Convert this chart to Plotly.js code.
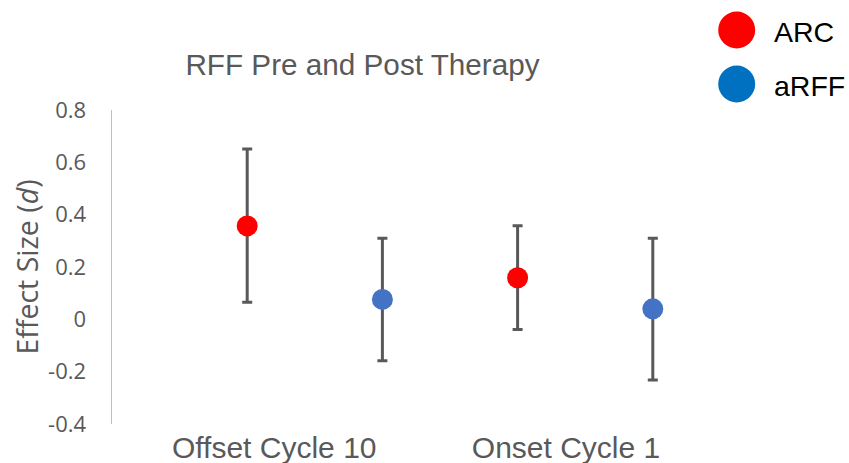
<!DOCTYPE html>
<html>
<head>
<meta charset="utf-8">
<script src="https://cdn.plot.ly/plotly-3.0.1.min.js"></script>
<style>html,body{margin:0;padding:0;background:#fff;}#chart{width:849px;height:463px;}</style>
</head>
<body>
<div id="chart"></div>
<script>
const categories = ['Offset Cycle 10', 'Onset Cycle 1'];
const seriesNames = ['ARC', 'aRFF'];
const arcValues = [0.357, 0.159];
const arcUpper = [0.651, 0.358];
const arcLower = [0.065, -0.039];
const arffValues = [0.076, 0.040];
const arffUpper = [0.310, 0.310];
const arffLower = [-0.158, -0.232];
const yTickValues = [-0.4, -0.2, 0, 0.2, 0.4, 0.6, 0.8];
const yTickLabels = ['-0.4', '-0.2', '0', '0.2', '0.4', '0.6', '0.8'];

const arcX = categories.map((c, i) => i * 2 + 1);
const arffX = categories.map((c, i) => i * 2 + 2);

function errTrace(name, x, y, upper, lower, color) {
  return {
    type: 'scatter', mode: 'markers', name: name, x: x, y: y,
    showlegend: false, hoverinfo: 'skip',
    marker: {color: color, size: 21, line: {width: 0}},
    error_y: {
      type: 'data', symmetric: false,
      array: upper.map((u, i) => u - y[i]),
      arrayminus: lower.map((l, i) => y[i] - l),
      color: '#595959', thickness: 3, width: 5
    }
  };
}

const traces = [
  errTrace(seriesNames[0], arcX, arcValues, arcUpper, arcLower, '#FF0000'),
  errTrace(seriesNames[1], arffX, arffValues, arffUpper, arffLower, '#4472C4')
];

const legendColors = ['#FF0000', '#0070C0'];
const legendY = [30, 84];
const shapes = [];
const annotations = [];
seriesNames.forEach((n, i) => {
  shapes.push({
    type: 'circle', xref: 'paper', yref: 'paper',
    xsizemode: 'pixel', ysizemode: 'pixel',
    xanchor: (736.7 - 112) / 676, yanchor: (424 - legendY[i]) / 314,
    x0: -18.5, x1: 18.5, y0: -18.5, y1: 18.5,
    fillcolor: legendColors[i], line: {width: 0}
  });
  annotations.push({
    text: n, xref: 'paper', yref: 'paper',
    x: (772 - 112) / 676, y: (424 - legendY[i] - 2) / 314,
    xanchor: 'left', yanchor: 'middle', showarrow: false,
    font: {family: 'Liberation Sans, Arial, sans-serif', size: 28.5, color: '#000000'}
  });
});

const layout = {
  width: 849, height: 463,
  margin: {l: 112, r: 61, t: 110, b: 39},
  paper_bgcolor: '#ffffff', plot_bgcolor: '#ffffff',
  showlegend: false,
  title: {
    text: 'RFF Pre and Post Therapy',
    font: {family: 'Liberation Sans, Arial, sans-serif', size: 29.7, color: '#595959'},
    x: 362.5 / 849, xref: 'container', xanchor: 'center',
    y: 1 - 65 / 463, yref: 'container', yanchor: 'middle'
  },
  xaxis: {
    range: [0, 5], showgrid: false, zeroline: false, showline: false,
    ticks: '', tickmode: 'array', tickvals: [1.2, 3.358], ticktext: categories,
    ticklabelstandoff: 3,
    tickfont: {family: 'Liberation Sans, Arial, sans-serif', size: 30, color: '#595959'},
    fixedrange: true
  },
  yaxis: {
    range: [-0.4, 0.8], showgrid: false, zeroline: false,
    showline: true, linecolor: '#BFBFBF', linewidth: 1.5,
    ticks: '', tickmode: 'array', tickvals: yTickValues, ticktext: yTickLabels,
    ticklabelstandoff: 20,
    tickfont: {family: 'Open Sans, sans-serif', size: 22, color: '#595959'},
    title: {text: 'Effect Size (<i>d</i>)', standoff: 1,
      font: {family: 'Open Sans, sans-serif', size: 28.5, color: '#595959'}},
    fixedrange: true
  },
  shapes: shapes,
  annotations: annotations
};

Plotly.newPlot('chart', traces, layout, {displayModeBar: false, staticPlot: true});
</script>
</body>
</html>
